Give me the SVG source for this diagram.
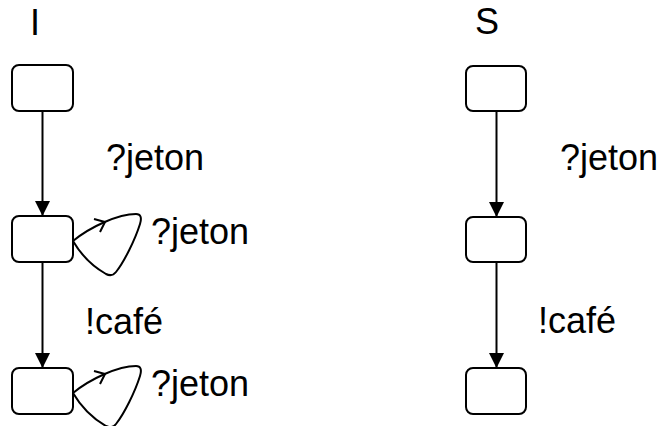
<svg xmlns="http://www.w3.org/2000/svg" width="662" height="426" viewBox="0 0 662 426">
<defs>
<style>
.st{fill:#fff;stroke:#000;stroke-width:2}
.ln{fill:none;stroke:#000;stroke-width:2}
.lp{fill:none;stroke:#000;stroke-width:2;stroke-linejoin:round}
text{font-family:"Liberation Sans",Arial,sans-serif;font-size:36px;fill:#000}
</style>
<marker id="ah" markerWidth="15" markerHeight="15" refX="15" refY="7.5" orient="auto" markerUnits="userSpaceOnUse">
<path d="M0,0 L15,7.5 L0,15 Z" fill="#000"/>
</marker>
</defs>
<rect width="662" height="426" fill="#fff"/>
<text x="30" y="35">I</text>
<text x="475" y="34">S</text>
<g id="connectors">
<line class="ln" x1="42.5" y1="111" x2="42.5" y2="216" marker-end="url(#ah)"/>
<line class="ln" x1="42.5" y1="262" x2="42.5" y2="368" marker-end="url(#ah)"/>
<path class="lp" d="M73,241 C90,227 118,214 136,214 Q143,214 140,224 C135,240 124,262 116,272 Q112,277 106,274 C92,266 80,253 73,241"/>
<path class="lp" d="M94,219 L105,222 L100,232"/>
<path class="lp" d="M73,393 C90,379 118,366 136,366 Q143,366 140,376 C135,392 124,414 116,424 Q112,429 106,426 C92,418 80,405 73,393"/>
<path class="lp" d="M94,371 L105,374 L100,384"/>
<line class="ln" x1="496.5" y1="111" x2="496.5" y2="217" marker-end="url(#ah)"/>
<line class="ln" x1="496.5" y1="262" x2="496.5" y2="368" marker-end="url(#ah)"/>
</g>
<g id="labels">
<text x="106" y="170">?jeton</text>
<text x="151" y="244">?jeton</text>
<text x="85" y="334">!café</text>
<text x="151" y="396">?jeton</text>
<text x="560" y="170">?jeton</text>
<text x="538" y="333">!café</text>
</g>
<g id="I1"><rect class="st" x="12" y="65" width="61" height="46" rx="7"/></g>
<g id="I2"><rect class="st" x="12" y="216" width="61" height="46" rx="7"/></g>
<g id="I3"><rect class="st" x="12" y="368" width="61" height="46" rx="7"/></g>
<g id="S1"><rect class="st" x="466" y="66" width="60" height="45" rx="7"/></g>
<g id="S2"><rect class="st" x="466" y="217" width="60" height="45" rx="7"/></g>
<g id="S3"><rect class="st" x="466" y="368" width="60" height="46" rx="7"/></g>
</svg>
